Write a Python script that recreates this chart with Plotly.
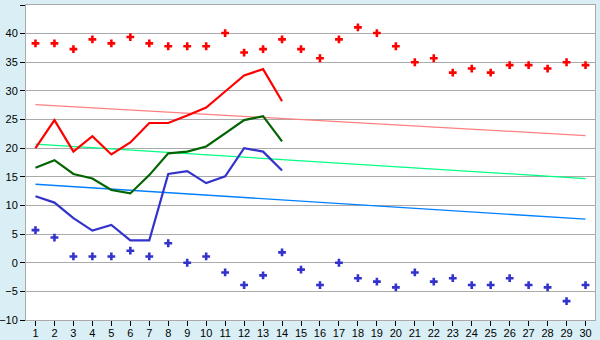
import plotly.graph_objects as go

days = list(range(1, 31))
tick_labels = [str(d) for d in days]

record_high = [38.3, 38.3, 37.3, 39.0, 38.3, 39.4, 38.3, 37.8, 37.8, 37.8,
               40.1, 36.7, 37.3, 39.0, 37.3, 35.7, 39.0, 41.1, 40.1, 37.8,
               35.0, 35.7, 33.2, 33.9, 33.2, 34.5, 34.5, 33.9, 35.0, 34.5]
record_low = [5.7, 4.4, 1.1, 1.1, 1.1, 2.1, 1.1, 3.4, 0.0, 1.1,
              -1.7, -3.9, -2.2, 1.8, -1.2, -3.9, 0.0, -2.7, -3.3, -4.3,
              -1.7, -3.3, -2.7, -3.9, -3.9, -2.7, -3.9, -4.3, -6.7, -3.9]

obs_days = list(range(1, 15))
max_temp = [20.0, 24.9, 19.4, 22.1, 18.9, 21.0, 24.4, 24.4, 25.7, 27.1,
            29.9, 32.7, 33.8, 28.2]
mean_temp = [16.6, 17.9, 15.5, 14.7, 12.7, 12.1, 15.3, 19.1, 19.4, 20.3,
             22.6, 24.9, 25.6, 21.2]
min_temp = [11.6, 10.5, 7.8, 5.6, 6.6, 3.9, 3.9, 15.5, 16.0, 13.9,
            15.1, 20.0, 19.4, 16.1]

trend_days = [1, 30]
normal_max = [27.6, 22.2]
normal_mean = [20.7, 14.7]
normal_min = [13.7, 7.6]

fig = go.Figure()

fig.add_trace(go.Scatter(x=trend_days, y=normal_max, mode="lines",
                         line=dict(color="#FF8080", width=1.3), hoverinfo="skip"))
fig.add_trace(go.Scatter(x=trend_days, y=normal_mean, mode="lines",
                         line=dict(color="#00FF80", width=1.3), hoverinfo="skip"))
fig.add_trace(go.Scatter(x=trend_days, y=normal_min, mode="lines",
                         line=dict(color="#0080FF", width=1.3), hoverinfo="skip"))

fig.add_trace(go.Scatter(x=obs_days, y=max_temp, mode="lines",
                         line=dict(color="#FF0000", width=2.2)))
fig.add_trace(go.Scatter(x=obs_days, y=mean_temp, mode="lines",
                         line=dict(color="#006400", width=2.2)))
fig.add_trace(go.Scatter(x=obs_days, y=min_temp, mode="lines",
                         line=dict(color="#3333CC", width=2.2)))

fig.add_trace(go.Scatter(x=days, y=record_high, mode="markers",
                         marker=dict(symbol="cross", size=6.5, color="#FF0000",
                                     line=dict(width=0))))
fig.add_trace(go.Scatter(x=days, y=record_low, mode="markers",
                         marker=dict(symbol="cross", size=6.5, color="#3333CC",
                                     line=dict(width=0))))

fig.update_layout(
    width=600, height=340,
    margin=dict(l=26, r=5, t=5, b=20),
    paper_bgcolor="#DAEFF5",
    plot_bgcolor="#FFFFFF",
    showlegend=False,
    font=dict(family="Liberation Sans, Arial, sans-serif", size=11, color="#000000"),
    xaxis=dict(
        range=[0.5, 30.5], tickmode="array", tickvals=days, ticktext=tick_labels,
        showgrid=False, zeroline=False, ticks="outside", ticklen=5,
        tickcolor="#000000", showline=True, linecolor="#AAAAAA", mirror=True,
        fixedrange=True, automargin=False, ticklabelstandoff=-2,
    ),
    yaxis=dict(
        range=[-10, 45], dtick=5, showgrid=True, gridcolor="#AAAAAA", gridwidth=1,
        zeroline=False, ticks="outside", ticklen=5, tickcolor="#000000",
        showline=True, linecolor="#AAAAAA", mirror=True, fixedrange=True,
        automargin=False,
    ),
)

fig.write_html("out.html")
